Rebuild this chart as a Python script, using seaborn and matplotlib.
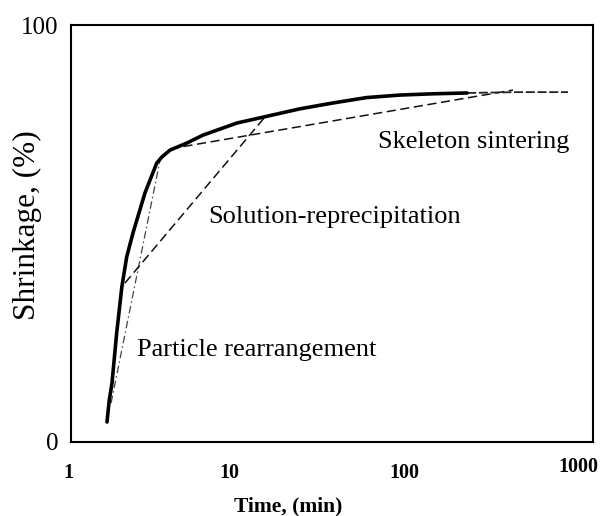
import matplotlib
matplotlib.use("Agg")
import matplotlib.pyplot as plt
import matplotlib.transforms as mtransforms
import seaborn as sns
import pandas as pd

# ---- data ----
curve_time = [1.61, 1.66, 1.72, 1.83, 1.96, 2.09, 2.27, 2.66, 3.11, 3.32, 3.71, 3.96,
              4.64, 5.74, 9.0, 12.7, 20.7, 32.0, 50.1, 77.8, 120, 189]
curve_shrink = [4.8, 10.1, 14.1, 26.1, 37.2, 44.4, 50.1, 59.7, 66.9, 68.3, 70.0, 70.5,
                71.7, 73.6, 76.5, 77.9, 79.9, 81.3, 82.6, 83.2, 83.5, 83.7]
tail_time = [189, 366, 718]
tail_shrink = [83.7, 83.9, 83.9]

rearr_time = [1.70, 3.25]
rearr_shrink = [9.35, 67.6]
solrep_time = [2.04, 13.0]
solrep_shrink = [38.1, 77.9]
skel_time = [3.70, 347]
skel_shrink = [70.3, 84.4]

x_ticks = [1, 10, 100, 1000]
x_tick_labels = ["1", "10", "100", "1000"]
y_ticks = [0, 100]
y_tick_labels = ["0", "100"]

stage_labels = ["Skeleton sintering", "Solution-reprecipitation", "Particle rearrangement"]

# ---- figure ----
sns.set_style("white")
plt.rcParams["font.family"] = ["Liberation Serif", "DejaVu Serif"]
plt.rcParams["text.color"] = "black"
plt.rcParams["axes.labelcolor"] = "black"
plt.rcParams["xtick.color"] = "black"
plt.rcParams["ytick.color"] = "black"

fig = plt.figure(figsize=(6.03, 5.16), dpi=100)
ax = fig.add_axes([71 / 603, 74 / 516, 522 / 603, 417 / 516])

df_curve = pd.DataFrame({"t": curve_time, "s": curve_shrink})
df_tail = pd.DataFrame({"t": tail_time, "s": tail_shrink})
df_rearr = pd.DataFrame({"t": rearr_time, "s": rearr_shrink})
df_solrep = pd.DataFrame({"t": solrep_time, "s": solrep_shrink})
df_skel = pd.DataFrame({"t": skel_time, "s": skel_shrink})

sns.lineplot(data=df_rearr, x="t", y="s", ax=ax, color="#444444", lw=0.9,
             linestyle=(0, (6, 2.5, 1.2, 2.5)), estimator=None, sort=False)
sns.lineplot(data=df_solrep, x="t", y="s", ax=ax, color="#111111", lw=1.1,
             linestyle=(0, (6, 3)), estimator=None, sort=False)
sns.lineplot(data=df_skel, x="t", y="s", ax=ax, color="#111111", lw=1.1,
             linestyle=(0, (6, 3)), estimator=None, sort=False)
sns.lineplot(data=df_tail, x="t", y="s", ax=ax, color="#222222", lw=1.3,
             linestyle=(0, (5, 1.5)), estimator=None, sort=False)
line_ax = sns.lineplot(data=df_curve, x="t", y="s", ax=ax, color="black", lw=2.6,
                       estimator=None, sort=False)
ax.lines[-1].set_solid_joinstyle("round")
ax.lines[-1].set_solid_capstyle("round")

ax.set_xscale("log")
ax.set_xlim(1, 1000)
ax.set_ylim(0, 100)
ax.set_xticks(x_ticks)
ax.set_xticklabels(x_tick_labels, fontsize=14.5, fontweight="bold")
ax.set_yticks(y_ticks)
ax.set_yticklabels(y_tick_labels, fontsize=18)
ax.minorticks_off()
ax.tick_params(axis="x", length=0, pad=15)
ax.tick_params(axis="y", length=0, pad=9)

for sp in ax.spines.values():
    sp.set_visible(True)
    sp.set_color("black")
    sp.set_linewidth(1.5)

ax.set_xlabel("Time, (min)", fontsize=15.5, fontweight="bold")
ax.set_ylabel("Shrinkage, (%)", fontsize=22.5)
ax.xaxis.set_label_coords(0.416, -0.13)
ax.yaxis.set_label_coords(-0.056, 0.52)

# per-label offsets (px) to match the hand-placed labels
offsets = [(-3, 0), (-16, 0), (-15, 0), (-15, 6)]
for lab, (dx, dy) in zip(ax.get_xticklabels(), offsets):
    lab.set_transform(lab.get_transform() +
                      mtransforms.ScaledTranslation(dx / 100, dy / 100, fig.dpi_scale_trans))

ax.text(0.588, 0.719, stage_labels[0], transform=ax.transAxes, fontsize=19,
        ha="left", va="center", color="black")
ax.text(0.262, 0.540, stage_labels[1], transform=ax.transAxes, fontsize=19,
        ha="left", va="center", color="black")
ax.text(0.126, 0.221, stage_labels[2], transform=ax.transAxes, fontsize=19,
        ha="left", va="center", color="black")

fig.savefig("out.png", dpi=100)
